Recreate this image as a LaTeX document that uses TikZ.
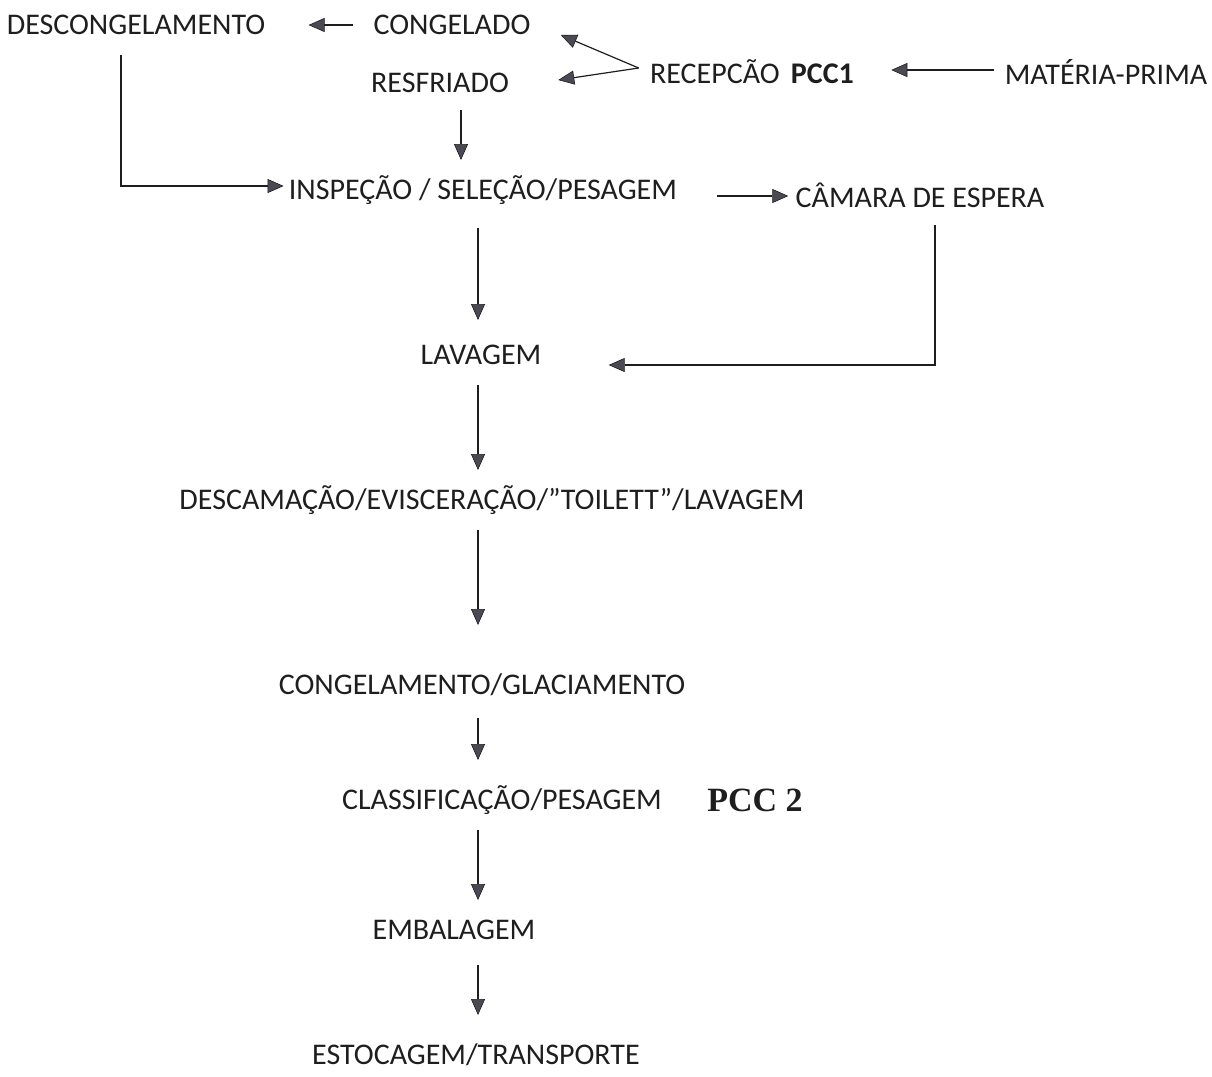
\documentclass[tikz,border=0pt]{standalone}
\usepackage{fontspec}
\setmainfont{Carlito}
\newfontfamily\pccfont{Liberation Serif}
\usepackage{tikz}
\usetikzlibrary{arrows.meta}
\definecolor{ink}{HTML}{1E1E1E}
\definecolor{tipgray}{HTML}{4A4A55}

\begin{document}
\begin{tikzpicture}[x=0.5pt,y=-0.5pt,
    lbl/.style={inner sep=0pt, text=ink, font=\fontsize{15}{18}\selectfont},
    flow/.style={draw=ink, line width=0.6pt,
        -{Triangle[length=8pt,width=7pt,fill=tipgray,line width=0.3pt]}}]
            \useasboundingbox (0,0) rectangle (1212,1077);

            % top row
            \node[lbl] (DC) at (136,25) {DESCONGELAMENTO};
            \node[lbl] (CG) at (452,25) {CONGELADO};
            \node[lbl] (RF) at (440,83) {RESFRIADO};
            \node[lbl] (RC) at (752,72) {RECEPCÃO\hspace{0.15em} \textbf{PCC1}};
            \node[lbl] (MP) at (1106,72) {MATÉRIA-PRIMA};

            % main line
            \node[lbl] (IS) at (483,190) {INSPEÇÃO / SELEÇÃO/PESAGEM};
            \node[lbl] (CE) at (920,195) {CÂMARA DE ESPERA};
            \node[lbl] (LV) at (481,355) {LAVAGEM};
            \node[lbl] (DE) at (492,500) {DESCAMAÇÃO/EVISCERAÇÃO/”TOILETT”/LAVAGEM};
            \node[lbl] (GL) at (482,685) {CONGELAMENTO/GLACIAMENTO};
            \node[lbl] (CL) at (502,800) {CLASSIFICAÇÃO/PESAGEM};
            \node[inner sep=0pt, text=ink, font=\pccfont\bfseries\fontsize{17}{20}\selectfont] (PC) at (755,800) {PCC 2};
            \node[lbl] (EB) at (454,930) {EMBALAGEM};
            \node[lbl] (ET) at (476,1055) {ESTOCAGEM/TRANSPORTE};

            % reception
            \draw[flow] ([shift={(-20,0)}]CG.west) -- ([shift={(43,0)}]DC.east);
            \draw[flow] ([shift={(-11,-4)}]RC.west) -- ([shift={(30,10)}]CG.east);
            \draw[flow] ([shift={(-11,-4)}]RC.west) -- ([shift={(49,-3)}]RF.east);
            \draw[flow] ([shift={(-10,-2)}]MP.west) -- ([shift={(37,-2)}]RC.east);

            \draw[flow] ([shift={(21,27)}]RF.center) -- ([shift={(-22,-30)}]IS.center);
            \draw[flow] ([shift={(-15,30)}]DC.center) |- ([shift={(-5,-4)}]IS.west);
            \draw[flow] ([shift={(40,6)}]IS.east) -- ([shift={(-7,1)}]CE.west);
            \draw[flow] ([shift={(-5,38)}]IS.center) -- ([shift={(-3,-35)}]LV.center);
            \draw[flow] ([shift={(15,30)}]CE.center) |- ([shift={(67,10)}]LV.east);

            % processing
            \draw[flow] ([shift={(-3,30)}]LV.center) -- ([shift={(-14,-30)}]DE.center);
            \draw[flow] ([shift={(-14,30)}]DE.center) -- ([shift={(-4,-60)}]GL.center);
            \draw[flow] ([shift={(-4,33)}]GL.center) -- ([shift={(-24,-40)}]CL.center);
            \draw[flow] ([shift={(-24,30)}]CL.center) -- ([shift={(24,-30)}]EB.center);
            \draw[flow] ([shift={(24,35)}]EB.center) -- ([shift={(2,-40)}]ET.center);

        \end{tikzpicture}
\end{document}
